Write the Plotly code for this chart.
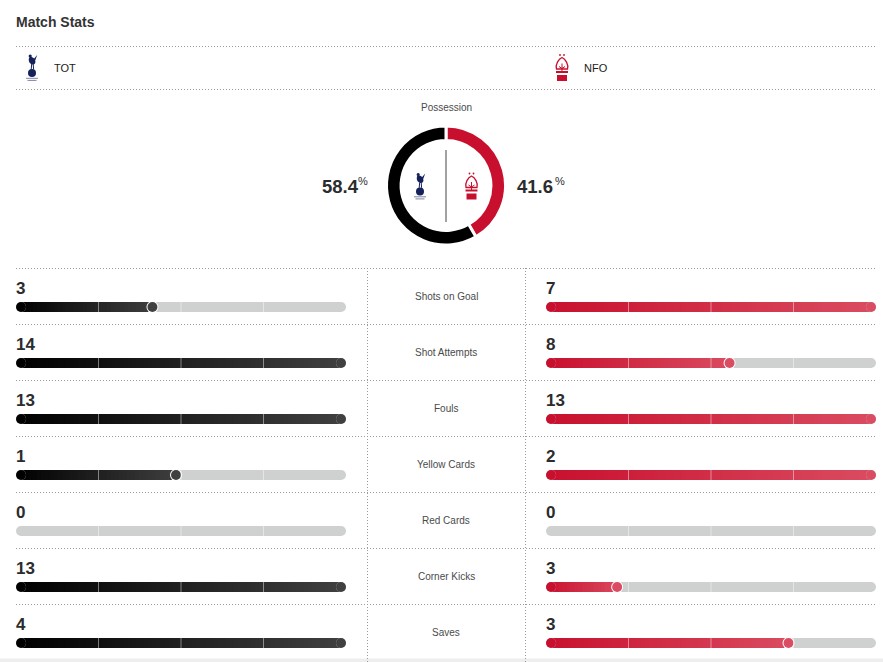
import math
import plotly.graph_objects as go

# ---------------- data ----------------
home_team = "TOT"
away_team = "NFO"
possession_teams = ["NFO", "TOT"]
possession_values = [41.6, 58.4]
stat_names = ["Shots on Goal", "Shot Attempts", "Fouls", "Yellow Cards",
              "Red Cards", "Corner Kicks", "Saves"]
home_values = [3, 14, 13, 1, 0, 13, 4]
away_values = [7, 8, 13, 2, 0, 3, 3]

# ---------------- style / layout constants ----------------
W, H = 883, 662
FONT = "Liberation Sans, Arial, sans-serif"
TXT = "#2b2c2d"
SUB_TXT = "#4a4b4c"
BAR_GREY = "#cfd0d0"
DOT_GREY = "#9b9b9b"
NAVY = "#14215a"
RED = "#c8102e"
HOME_C0, HOME_C1 = (0, 0, 0), (64, 64, 64)
AWAY_C0, AWAY_C1 = (200, 16, 46), (218, 76, 97)

ROW_TOP, ROW_H = 268, 56
BAR_PX = 10
BAR_DY = 11 / ROW_H
NUM_DY = -7.7 / ROW_H
HOME_X = (16, 346)
AWAY_X = (546, 876)
BAR_LEN = HOME_X[1] - HOME_X[0]
R = (BAR_PX / 2) / BAR_LEN
N_SLICES = 80


def lerp(c0, c1, t):
    t = min(max(t, 0), 1)
    return "rgb(%d,%d,%d)" % tuple(round(a + (b - a) * t) for a, b in zip(c0, c1))


fig = go.Figure()

# pixel-space helper trace (donut centre divider) on x/y
fig.add_trace(go.Scatter(x=[446, 446], y=[150, 222], mode="lines",
                         line=dict(color="#444", width=1), hoverinfo="skip",
                         xaxis="x", yaxis="y", cliponaxis=False))


def add_side(values, other, xa, c0, c1):
    n = len(values)
    ys = [i + BAR_DY for i in range(n)]
    fr = [v / max(v, o) if max(v, o) > 0 else 0 for v, o in zip(values, other)]
    # grey track
    fig.add_trace(go.Bar(orientation="h", y=ys, base=[R] * n, x=[1 - 2 * R] * n,
                         width=BAR_PX / ROW_H,
                         marker=dict(color=BAR_GREY, line=dict(width=0)),
                         xaxis=xa, yaxis="y2", hoverinfo="skip"))
    fig.add_trace(go.Scatter(x=[R] * n + [1 - R] * n, y=ys + ys, mode="markers",
                             marker=dict(size=BAR_PX, color=BAR_GREY, line=dict(width=0)),
                             xaxis=xa, yaxis="y2", hoverinfo="skip", cliponaxis=False))
    # white halo at end of partial fills
    rx = [f - R for f in fr if 0 < f < 1]
    ry = [y for y, f in zip(ys, fr) if 0 < f < 1]
    fig.add_trace(go.Scatter(x=rx, y=ry, mode="markers",
                             marker=dict(size=BAR_PX + 2, color="white", line=dict(width=0)),
                             xaxis=xa, yaxis="y2", hoverinfo="skip", cliponaxis=False))
    # gradient fill
    bx, bb, by, bc = [], [], [], []
    cx, cy, cc = [], [], []
    for y, f in zip(ys, fr):
        if f <= 0:
            continue
        a, b = R, f - R
        k = max(1, math.ceil((b - a) * N_SLICES))
        step = (b - a) / k
        for j in range(k):
            bb.append(a + j * step)
            bx.append(step * 1.0005)
            by.append(y)
            bc.append(lerp(c0, c1, (a + (j + 0.5) * step) / f))
        cx += [R, f - R]
        cy += [y, y]
        cc += [lerp(c0, c1, 0), lerp(c0, c1, 1)]
    fig.add_trace(go.Bar(orientation="h", y=by, base=bb, x=bx, width=BAR_PX / ROW_H,
                         marker=dict(color=bc, line=dict(width=0)),
                         xaxis=xa, yaxis="y2", hoverinfo="skip"))
    fig.add_trace(go.Scatter(x=cx, y=cy, mode="markers",
                             marker=dict(size=BAR_PX, color=cc, line=dict(width=0)),
                             xaxis=xa, yaxis="y2", hoverinfo="skip", cliponaxis=False))
    # quarter dividers
    dx, dy = [], []
    for y in ys:
        for q in (0.25, 0.5, 0.75):
            dx += [q, q, None]
            dy += [y - BAR_PX / 2 / ROW_H, y + BAR_PX / 2 / ROW_H, None]
    fig.add_trace(go.Scatter(x=dx, y=dy, mode="lines",
                             line=dict(color="rgba(255,255,255,0.45)", width=1),
                             xaxis=xa, yaxis="y2", hoverinfo="skip", cliponaxis=False))


add_side(home_values, away_values, "x2", HOME_C0, HOME_C1)
add_side(away_values, home_values, "x3", AWAY_C0, AWAY_C1)

# possession donut
DC_X, DC_Y, DR = 446, 185.5, 59.5
fig.add_trace(go.Pie(labels=possession_teams, values=possession_values,
                     marker=dict(colors=[RED, "#000000"], line=dict(color="white", width=3)),
                     hole=0.755, sort=False, direction="clockwise", rotation=0,
                     textinfo="none", hoverinfo="label+percent",
                     domain=dict(x=[(DC_X - DR) / W, (DC_X + DR) / W],
                                 y=[1 - (DC_Y + DR) / H, 1 - (DC_Y - DR) / H])))

# ---------------- shapes ----------------
shapes = []
DOT = "1px,2px"


def hline(y, x0=16, x1=876):
    shapes.append(dict(type="line", xref="x", yref="y", x0=x0, x1=x1, y0=y, y1=y,
                       line=dict(color=DOT_GREY, width=1, dash=DOT)))


def vline(x, y0, y1):
    shapes.append(dict(type="line", xref="x", yref="y", x0=x, x1=x, y0=y0, y1=y1,
                       line=dict(color=DOT_GREY, width=1, dash=DOT)))


hline(46.5)
hline(89.5)
for i in range(len(stat_names)):
    hline(ROW_TOP + 0.5 + i * ROW_H)
vline(367.5, ROW_TOP, H)
vline(525.5, ROW_TOP, H)

# page background band at bottom
shapes.append(dict(type="rect", xref="x", yref="y", x0=0, x1=W, y0=658.5, y1=H,
                   fillcolor="#eeeeee", line=dict(width=0), layer="below"))


def circ(cx, cy, r, color):
    shapes.append(dict(type="circle", xref="x", yref="y", x0=cx - r, x1=cx + r,
                       y0=cy - r, y1=cy + r, fillcolor=color, line=dict(width=0)))


def rect(x0, y0, x1, y1, color, op=1):
    shapes.append(dict(type="rect", xref="x", yref="y", x0=x0, x1=x1, y0=y0, y1=y1,
                       fillcolor=color, opacity=op, line=dict(width=0)))


def path(d, fill=None, lc=None, lw=0):
    s = dict(type="path", xref="x", yref="y", path=d, line=dict(width=lw))
    if fill:
        s["fillcolor"] = fill
    if lc:
        s["line"]["color"] = lc
    shapes.append(s)


def P(cx, cy, pts):
    out = []
    for p in pts:
        if isinstance(p, str):
            out.append(p)
        else:
            out.append("%.2f,%.2f" % (cx + p[0], cy + p[1]))
    return " ".join(out)


def tot_logo(cx, cy):
    circ(cx, cy + 5.5, 4, NAVY)
    circ(cx - 1.8, cy - 11.5, 1.6, NAVY)
    path(P(cx, cy, ["M", (-2.8, -10), "C", (-4.2, -7), (-2.2, -3), (0.8, -3),
                    "C", (3, -3), (4, -5), (3.2, -7), "L", (5.2, -12.5), "L", (2.2, -9),
                    "C", (1, -10.2), (-1, -11), (-2.8, -10), "Z"]), fill=NAVY)
    path(P(cx, cy, ["M", (-0.3, -3.5), "L", (-0.8, 1.8), "M", (1.2, -3.5), "L", (1.6, 1.8)]),
         lc=NAVY, lw=1)
    rect(cx - 6, cy + 10.3, cx + 6, cy + 11.3, NAVY, 0.55)
    rect(cx - 4.5, cy + 12.4, cx + 4.5, cy + 13.4, NAVY, 0.55)


def nfo_logo(cx, cy):
    circ(cx - 2, cy - 12.5, 0.9, RED)
    circ(cx + 2, cy - 12.5, 0.9, RED)
    path(P(cx, cy, ["M", (-5.5, 1.5), "C", (-6.8, -3), (-3.5, -8.5), (0, -10),
                    "C", (3.5, -8.5), (6.8, -3), (5.5, 1.5), "Z"]), lc=RED, lw=1.3)
    path(P(cx, cy, ["M", (0, -4), "L", (0, 4), "M", (-3, -1), "L", (0, 1), "L", (3, -1)]),
         lc=RED, lw=1)
    rect(cx - 6, cy + 3.5, cx + 6, cy + 5.5, RED)
    rect(cx - 5, cy + 7.5, cx + 5, cy + 13.5, RED)


tot_logo(32, 67.5)
nfo_logo(562, 67.5)
tot_logo(420, 186)
nfo_logo(471.5, 186)

# ---------------- annotations ----------------
ann = []


def txt(x, y, s, size, color=TXT, xanchor="left", bold=False, xref="x", yref="y", xshift=0):
    ann.append(dict(x=x, y=y, xref=xref, yref=yref, text=s, showarrow=False,
                    xanchor=xanchor, yanchor="middle", xshift=xshift,
                    font=dict(family=FONT, size=size, color=color,
                              weight="bold" if bold else "normal")))


txt(14, 22, "Match Stats", 14, color="#333333", bold=True)
txt(52, 68, home_team, 11, color="#222222")
txt(582, 68, away_team, 11, color="#222222")
txt(446, 107, "Possession", 10, color=SUB_TXT, xanchor="center")

# possession percentages: number + raised small percent sign
txt(361, 186, "%.1f" % possession_values[1], 18.5, bold=True, xanchor="right")
txt(356, 181, "%", 11, xanchor="left")
txt(515, 186, "%.1f" % possession_values[0], 18.5, bold=True, xanchor="left")
txt(553, 181, "%", 11, xanchor="left")

for i, (name, hv, av) in enumerate(zip(stat_names, home_values, away_values)):
    txt(0, i + NUM_DY, str(hv), 17, bold=True, xref="x2", yref="y2", xshift=-2)
    txt(0, i + NUM_DY, str(av), 17, bold=True, xref="x3", yref="y2", xshift=-2)
    txt(446 / W, i, name, 10, color=SUB_TXT, xanchor="center", xref="paper", yref="y2")

ax_common = dict(visible=False, fixedrange=True, showgrid=False, zeroline=False)
fig.update_layout(
    width=W, height=H, margin=dict(l=0, r=0, t=0, b=0),
    paper_bgcolor="white", plot_bgcolor="rgba(0,0,0,0)",
    showlegend=False, barmode="overlay", bargap=0,
    xaxis=dict(domain=[0, 1], range=[0, W], anchor="y", **ax_common),
    yaxis=dict(domain=[0, 1], range=[H, 0], anchor="x", **ax_common),
    xaxis2=dict(domain=[HOME_X[0] / W, HOME_X[1] / W], range=[0, 1], anchor="y2", **ax_common),
    xaxis3=dict(domain=[AWAY_X[0] / W, AWAY_X[1] / W], range=[0, 1], anchor="y2", **ax_common),
    yaxis2=dict(domain=[0, (H - ROW_TOP) / H],
                range=[(H - ROW_TOP) / ROW_H - 0.5, -0.5], anchor="x2", **ax_common),
    shapes=shapes, annotations=ann,
)

fig.write_html("out.html", config=dict(displayModeBar=False),
               post_script="document.body.style.margin='0';document.body.style.overflow='hidden';")
